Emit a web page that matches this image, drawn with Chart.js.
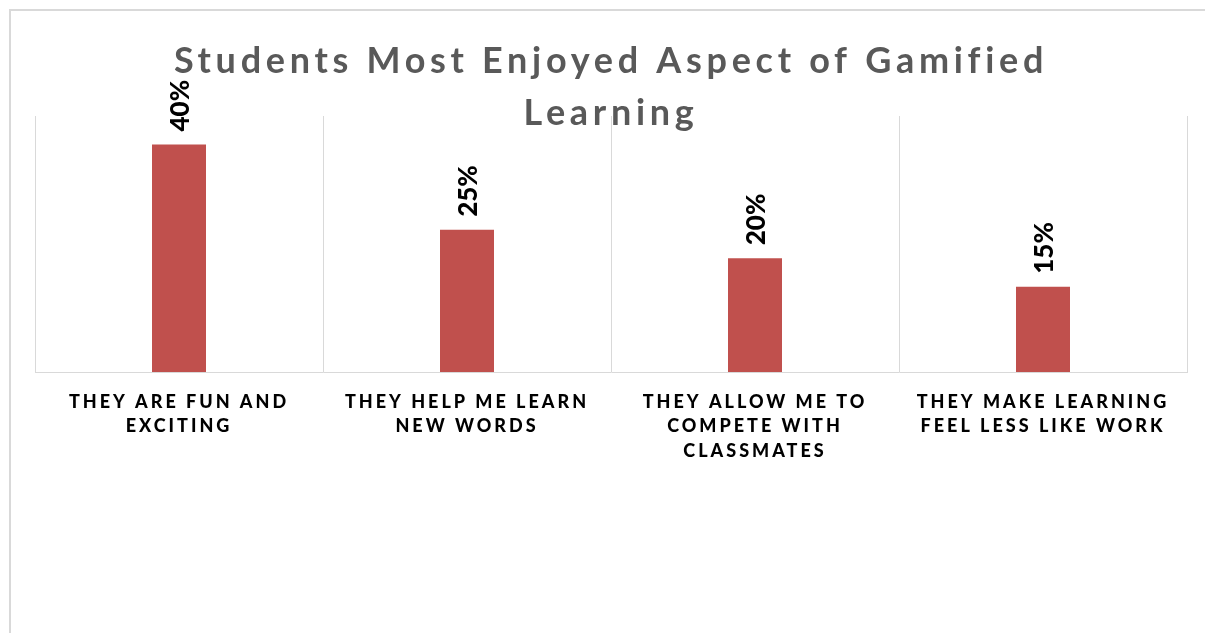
<!DOCTYPE html>
<html>
<head>
<meta charset="utf-8">
<script src="https://cdn.jsdelivr.net/npm/chart.js@4/dist/chart.umd.min.js"></script>
<style>
  html, body { margin: 0; padding: 0; background: #fff; overflow: hidden; }
  #frame { position: absolute; left: 9px; top: 9px; width: 1260px; height: 700px; border: 2px solid #d9d9d9; box-sizing: border-box; }
  #wrap { position: absolute; left: 0; top: 0; width: 1205px; height: 633px; }
</style>
</head>
<body>
<div id="frame"></div>
<div id="wrap"><canvas id="c" width="1205" height="633"></canvas></div>
<script>
const titleLines = ["Students Most Enjoyed Aspect of Gamified", "Learning"];
const categories = [
  ["THEY ARE FUN AND", "EXCITING"],
  ["THEY HELP ME LEARN", "NEW WORDS"],
  ["THEY ALLOW ME TO", "COMPETE WITH", "CLASSMATES"],
  ["THEY MAKE LEARNING", "FEEL LESS LIKE WORK"]
];
const percentages = [40, 25, 20, 15];

// Spaced capitals for the category labels
const tickSpacing = {
  id: 'tickSpacing',
  beforeDraw(chart) { chart.ctx.letterSpacing = '3px'; },
  afterDraw(chart) { chart.ctx.letterSpacing = '0px'; }
};

// Rotated value labels above each bar
const valueLabels = {
  id: 'valueLabels',
  afterDatasetsDraw(chart) {
    const ctx = chart.ctx;
    const meta = chart.getDatasetMeta(0);
    ctx.save();
    ctx.letterSpacing = '0px';
    ctx.font = '900 26px Lato';
    ctx.fillStyle = '#000';
    ctx.textAlign = 'left';
    ctx.textBaseline = 'middle';
    meta.data.forEach((bar, i) => {
      ctx.save();
      ctx.translate(bar.x + 2, bar.y - 13);
      ctx.rotate(-Math.PI / 2);
      ctx.fillText(percentages[i] + '%', 0, 0);
      ctx.restore();
    });
    ctx.restore();
  }
};

// Two-line chart title with letter spacing
const spacedTitle = {
  id: 'spacedTitle',
  afterDraw(chart) {
    const ctx = chart.ctx;
    ctx.save();
    ctx.letterSpacing = '4.7px';
    ctx.font = 'bold 36px Lato';
    ctx.fillStyle = '#595959';
    ctx.textAlign = 'center';
    ctx.textBaseline = 'alphabetic';
    const cx = (chart.chartArea.left + chart.chartArea.right) / 2;
    titleLines.forEach((line, i) => ctx.fillText(line, cx, 73 + i * 52));
    ctx.restore();
  }
};

new Chart(document.getElementById('c'), {
  type: 'bar',
  data: {
    labels: categories,
    datasets: [{
      data: percentages,
      backgroundColor: '#c0504d',
      borderWidth: 0,
      barPercentage: 1,
      categoryPercentage: 0.1875
    }]
  },
  options: {
    responsive: false,
    animation: false,
    layout: { padding: { left: 35, right: 18, top: 116, bottom: 152 } },
    plugins: { legend: { display: false }, tooltip: { enabled: false }, title: { display: false } },
    scales: {
      y: { display: false, min: 0, max: 45 },
      x: {
        grid: { display: true, offset: true, color: '#d9d9d9', lineWidth: 1, drawTicks: false },
        border: { display: true, color: '#d9d9d9', width: 1 },
        ticks: {
          autoSkip: false, maxRotation: 0, minRotation: 0, padding: 18,
          color: '#000',
          font: { family: 'Lato', weight: '900', size: 18, lineHeight: 1.35 }
        }
      }
    }
  },
  plugins: [tickSpacing, valueLabels, spacedTitle]
});
</script>
</body>
</html>
